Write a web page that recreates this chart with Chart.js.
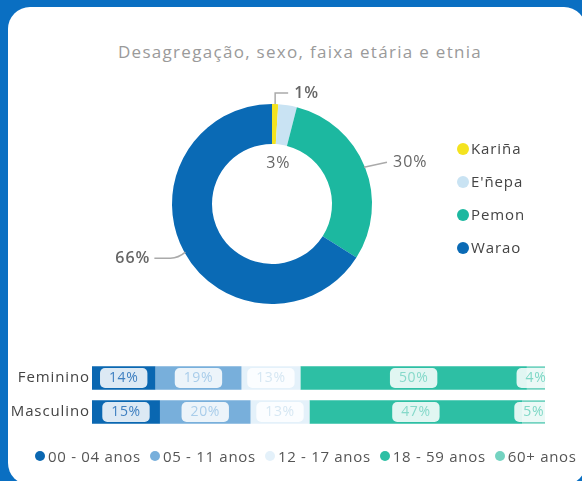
<!DOCTYPE html>
<html>
<head>
<meta charset="utf-8">
<script src="https://cdn.jsdelivr.net/npm/chart.js@4"></script>
<style>
  body { margin: 0; width: 582px; height: 481px; background: #0a6fc2; overflow: hidden; font-family: 'Open Sans', sans-serif; }
  #card { position: absolute; left: 8px; top: 7px; width: 578px; height: 478px; background: #fff; border-radius: 22px; }
  #title { position: absolute; left: 8px; width: 584px; top: 40px; text-align: center; font-size: 17px; letter-spacing: 1.3px; color: #9a9a9a; }
  #donutBox { position: absolute; left: 72px; top: 54px; }
  #barBox { position: absolute; left: 0; top: 350px; }
  #ethLegend { position: absolute; left: 457px; top: 138px; }
  #ethLegend div { height: 33px; font-size: 15px; letter-spacing: 0.9px; color: #444; display: flex; align-items: flex-start; }
  #ethLegend span.dot { width: 12px; height: 12px; border-radius: 50%; margin-top: 5px; margin-right: 2px; }
  #ageLegend { position: absolute; left: 35px; top: 446px; display: flex; font-size: 15px; letter-spacing: 0.7px; color: #555; white-space: nowrap; }
  #ageLegend div { display: flex; align-items: center; margin-right: 9px; }
  #ageLegend span.dot { width: 10px; height: 10px; border-radius: 50%; margin-right: 3px; }
</style>
</head>
<body>
<div id="card"></div>
<div id="title">Desagregação, sexo, faixa etária e etnia</div>
<div id="donutBox"><canvas id="donut" width="400" height="300"></canvas></div>
<div id="ethLegend"></div>
<div id="barBox"><canvas id="bars" width="582" height="90"></canvas></div>
<div id="ageLegend"></div>
<script>
// Etnias (rosca)
const ethnicities = ['Kariña', "E'ñepa", 'Pemon', 'Warao'];
const ethnicityShare = [1, 3, 30, 66];

// Sexo x faixa etária (barras empilhadas)
const sexes = ['Feminino', 'Masculino'];
const ageGroups = ['00 - 04 anos', '05 - 11 anos', '12 - 17 anos', '18 - 59 anos', '60+ anos'];
const age0004 = [14, 15];
const age0511 = [19, 20];
const age1217 = [13, 13];
const age1859 = [50, 47];
const age60 = [4, 5];

const ethColors = ['#f4e31f', '#c9e3f3', '#1cb8a0', '#0a6ab5'];
const ageColors = ['#0a67b1', '#78afdb', '#e4f1fa', '#2dbfa4', '#74d3c1'];
const ageLabelColors = ['#3e7fc0', '#a9cdea', '#d6e7f3', '#86d9ca', '#7fd8c6'];

// legendas em HTML
ethnicities.forEach((name, i) => {
    const row = document.createElement('div');
    row.innerHTML = '<span class="dot" style="background:' + ethColors[i] + '"></span>' + name;
    document.getElementById('ethLegend').appendChild(row);
});
ageGroups.forEach((name, i) => {
    const item = document.createElement('div');
    item.innerHTML = '<span class="dot" style="background:' + ageColors[i] + '"></span>' + name;
    document.getElementById('ageLegend').appendChild(item);
});

// espaçamento entre letras no canvas
const spacing = {
    id: 'spacing',
    beforeDraw(chart, args, opts) { chart.ctx.letterSpacing = opts.value || '0px'; }
};

// rotulos da rosca com linhas de chamada
const donutLabels = {
    id: 'donutLabels',
    afterDatasetsDraw(chart) {
        const ctx = chart.ctx;
        const arcs = chart.getDatasetMeta(0).data;
        ctx.save();
        ctx.letterSpacing = '1px';
        ctx.fillStyle = '#666';
        ctx.strokeStyle = '#aaa';
        ctx.lineWidth = 1.5;
        ctx.textBaseline = 'middle';
        arcs.forEach((arc, i) => {
            const p = arc.getProps(['x', 'y', 'startAngle', 'endAngle', 'outerRadius', 'innerRadius'], true);
            const a = (p.startAngle + p.endAngle) / 2;
            const txt = ethnicityShare[i] + '%';
            const ox = p.x + Math.cos(a) * p.outerRadius;
            const oy = p.y + Math.sin(a) * p.outerRadius;
            ctx.font = (i === 0 || i === 3 ? '600 ' : '500 ') + '16px "Open Sans"';
            if (i === 0) {
                ctx.beginPath();
                ctx.moveTo(ox, oy);
                ctx.lineTo(ox, oy - 11);
                ctx.lineTo(ox + 13, oy - 11);
                ctx.stroke();
                ctx.textAlign = 'left';
                ctx.fillText(txt, ox + 19, oy - 11);
            } else if (i === 1) {
                const r = p.innerRadius * 0.68;
                ctx.textAlign = 'center';
                ctx.fillText(txt, p.x + Math.cos(a) * r, p.y + Math.sin(a) * r);
            } else if (i === 2) {
                ctx.beginPath();
                ctx.moveTo(ox - 1, oy);
                ctx.lineTo(ox + 22, oy - 5);
                ctx.stroke();
                ctx.textAlign = 'left';
                ctx.fillText(txt, ox + 28, oy - 5);
            } else {
                ctx.beginPath();
                ctx.moveTo(ox + 1, oy);
                ctx.quadraticCurveTo(ox - 6, oy + 6, ox - 14, oy + 6);
                ctx.lineTo(ox - 30, oy + 6);
                ctx.stroke();
                ctx.textAlign = 'right';
                ctx.fillText(txt, ox - 34, oy + 6);
            }
        });
        ctx.restore();
    }
};

new Chart(document.getElementById('donut'), {
    type: 'doughnut',
    data: {
        labels: ethnicities,
        datasets: [{ data: ethnicityShare, backgroundColor: ethColors, borderWidth: 0 }]
    },
    options: {
        responsive: false,
        animation: false,
        cutout: '60%',
        layout: { padding: { left: 100, right: 100, top: 50, bottom: 50 } },
        plugins: { legend: { display: false }, tooltip: { enabled: false } }
    },
    plugins: [donutLabels]
});

// caixinhas com percentuais nas barras
function roundBox(ctx, x, y, w, h, r) {
    ctx.beginPath();
    ctx.moveTo(x + r, y);
    ctx.arcTo(x + w, y, x + w, y + h, r);
    ctx.arcTo(x + w, y + h, x, y + h, r);
    ctx.arcTo(x, y + h, x, y, r);
    ctx.arcTo(x, y, x + w, y, r);
    ctx.closePath();
}

const barLabels = {
    id: 'barLabels',
    afterDatasetsDraw(chart) {
        const ctx = chart.ctx;
        ctx.save();
        ctx.letterSpacing = '0.6px';
        ctx.font = '14px "Open Sans"';
        ctx.textAlign = 'center';
        ctx.textBaseline = 'middle';
        chart.data.datasets.forEach((ds, d) => {
            chart.getDatasetMeta(d).data.forEach((bar, i) => {
                const p = bar.getProps(['x', 'y', 'base'], true);
                const txt = ds.data[i] + '%';
                const cx = (p.x + p.base) / 2;
                const w = ctx.measureText(txt).width + 18;
                ctx.fillStyle = 'rgba(255,255,255,0.86)';
                roundBox(ctx, cx - w / 2, p.y - 10, w, 20, 5);
                ctx.fill();
                ctx.fillStyle = ageLabelColors[d];
                ctx.fillText(txt, cx, p.y + 0.5);
            });
        });
        ctx.restore();
    }
};

const ageSeries = [age0004, age0511, age1217, age1859, age60];

new Chart(document.getElementById('bars'), {
    type: 'bar',
    data: {
        labels: sexes,
        datasets: ageSeries.map((vals, i) => ({
            label: ageGroups[i],
            data: vals,
            backgroundColor: ageColors[i],
            borderWidth: 0,
            categoryPercentage: 1,
            barPercentage: 0.69
        }))
    },
    options: {
        responsive: false,
        animation: false,
        indexAxis: 'y',
        layout: { padding: { top: 6, bottom: 6, right: 37 } },
        scales: {
            x: { stacked: true, min: 0, max: 100, display: false },
            y: {
                stacked: true,
                grid: { display: false, drawTicks: false },
                border: { display: false },
                ticks: { padding: 2, color: '#444', font: { family: 'Open Sans', size: 15 } },
                afterFit(scale) { scale.width = 92; }
            }
        },
        plugins: { legend: { display: false }, tooltip: { enabled: false }, spacing: { value: '0.9px' } }
    },
    plugins: [spacing, barLabels]
});
</script>
</body>
</html>
